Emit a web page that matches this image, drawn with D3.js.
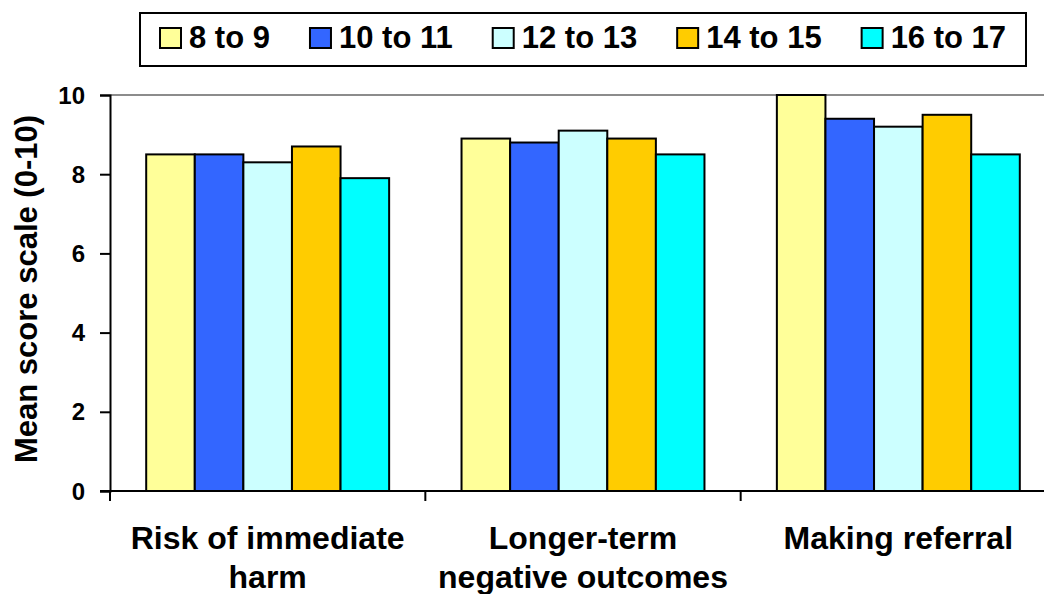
<!DOCTYPE html>
<html>
<head>
<meta charset="utf-8">
<script src="https://cdn.jsdelivr.net/npm/d3@7"></script>
<style>
  html, body { margin: 0; padding: 0; background: #fff; }
  text { font-family: "Liberation Sans", Arial, sans-serif; font-weight: bold; fill: #000; }
</style>
</head>
<body>
<div id="chart"></div>
<script>
// chart data
var categories = [["Risk of immediate", "harm"], ["Longer-term", "negative outcomes"], ["Making referral"]];
var seriesNames = ["8 to 9", "10 to 11", "12 to 13", "14 to 15", "16 to 17"];
var seriesColors = ["#FFFF99", "#3366FF", "#CCFFFF", "#FFCC00", "#00FFFF"];
var values = [
	[8.5, 8.9, 10.0],   // 8 to 9
	[8.5, 8.8, 9.4],    // 10 to 11
	[8.3, 9.1, 9.2],    // 12 to 13
	[8.7, 8.9, 9.5],    // 14 to 15
	[7.9, 8.5, 8.5]     // 16 to 17
];
var yTicks = [0, 2, 4, 6, 8, 10];

var width = 1044, height = 594;
var plot = {left: 110, right: 1056, top: 95, bottom: 491};

var svg = d3.select("#chart").append("svg")
	.attr("width", width)
	.attr("height", height);

// scales
var catIdx = categories.map(function (d, i) { return i; });
var x0 = d3.scaleBand().domain(catIdx).range([plot.left, plot.right]).padding(0);
var x1 = d3.scaleBand().domain(seriesNames).range([0, x0.bandwidth()])
	.paddingInner(0).paddingOuter(0.745);
var y = d3.scaleLinear().domain([0, 10]).range([plot.bottom, plot.top]);

// gridline at top value
svg.append("line")
	.attr("x1", plot.left).attr("x2", plot.right)
	.attr("y1", y(10)).attr("y2", y(10))
	.attr("stroke", "#8c8c8c").attr("stroke-width", 2);

// bars
var groups = svg.selectAll(".group")
	.data(catIdx)
	.enter().append("g")
	.attr("class", "group")
	.attr("transform", function (d) { return "translate(" + x0(d) + ",0)"; });

groups.selectAll("rect")
	.data(function (c) {
		return seriesNames.map(function (s, i) { return {series: s, idx: i, value: values[i][c]}; });
	})
	.enter().append("rect")
	.attr("x", function (d) { return x1(d.series); })
	.attr("width", x1.bandwidth())
	.attr("y", function (d) { return y(d.value); })
	.attr("height", function (d) { return y(0) - y(d.value); })
	.attr("fill", function (d) { return seriesColors[d.idx]; })
	.attr("stroke", "#000")
	.attr("stroke-width", 2);

// y axis (ticks from d3, labels drawn separately so they keep the bold font)
var yAxis = d3.axisLeft(y).tickValues(yTicks).tickSize(10).tickFormat("");
var yg = svg.append("g")
	.attr("transform", "translate(" + plot.left + ",0)")
	.call(yAxis);
yg.select(".domain").attr("stroke", "#000").attr("stroke-width", 2);
yg.selectAll(".tick line").attr("stroke", "#000").attr("stroke-width", 2);

svg.selectAll(".ylabel")
	.data(yTicks)
	.enter().append("text")
	.attr("class", "ylabel")
	.attr("x", plot.left - 25)
	.attr("y", function (d) { return y(d); })
	.attr("dy", "0.36em")
	.attr("text-anchor", "end")
	.style("font-size", "24px")
	.text(function (d) { return d; });

// x axis line with ticks at category boundaries
svg.append("line")
	.attr("x1", plot.left - 10).attr("x2", plot.right)
	.attr("y1", plot.bottom).attr("y2", plot.bottom)
	.attr("stroke", "#000").attr("stroke-width", 2);

var bounds = catIdx.map(function (c) { return x0(c); }).concat([x0(catIdx.length - 1) + x0.bandwidth()]);
svg.selectAll(".xtick")
	.data(bounds)
	.enter().append("line")
	.attr("class", "xtick")
	.attr("x1", function (d) { return d; }).attr("x2", function (d) { return d; })
	.attr("y1", plot.bottom).attr("y2", plot.bottom + 10)
	.attr("stroke", "#000").attr("stroke-width", 2);

// category labels
var catLabels = svg.selectAll(".catlabel")
	.data(catIdx)
	.enter().append("text")
	.attr("class", "catlabel")
	.attr("text-anchor", "middle")
	.style("font-size", "32px");
catLabels.each(function (c) {
	var t = d3.select(this);
	categories[c].forEach(function (line, i) {
		t.append("tspan")
			.attr("x", x0(c) + x0.bandwidth() / 2)
			.attr("y", 549 + i * 39)
			.text(line);
	});
});

// y title
svg.append("text")
	.attr("transform", "translate(37," + ((plot.top + plot.bottom) / 2 - 4) + ") rotate(-90)")
	.attr("text-anchor", "middle")
	.style("font-size", "31px")
	.text("Mean score scale (0-10)");

// legend
var legend = svg.append("g");
legend.append("rect")
	.attr("x", 140).attr("y", 13)
	.attr("width", 886).attr("height", 53)
	.attr("fill", "#fff")
	.attr("stroke", "#000").attr("stroke-width", 2);

var lx = 160;
seriesNames.forEach(function (name, i) {
	legend.append("rect")
		.attr("x", lx).attr("y", 28)
		.attr("width", 21).attr("height", 20)
		.attr("fill", seriesColors[i])
		.attr("stroke", "#000").attr("stroke-width", 2);
	var t = legend.append("text")
		.attr("x", lx + 29).attr("y", 48)
		.style("font-size", "31px")
		.text(name);
	lx = lx + 29 + t.node().getComputedTextLength() + 40;
});
</script>
</body>
</html>
